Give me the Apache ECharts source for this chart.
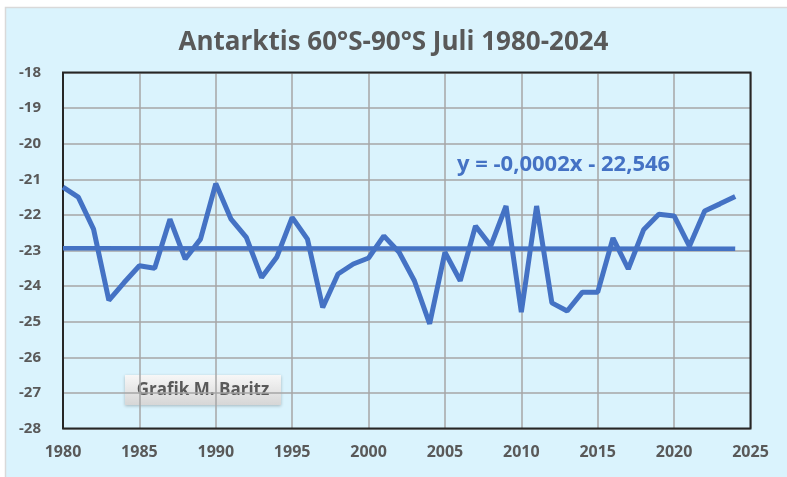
<!DOCTYPE html>
<html>
<head>
<meta charset="utf-8">
<script src="https://cdn.jsdelivr.net/npm/echarts@6/dist/echarts.min.js"></script>
<style>
  html, body { margin: 0; padding: 0; background: #fff; }
  #chart-container { width: 787px; height: 477px; }
</style>
</head>
<body>
<div id="chart-container"></div>
<script>
var dom = document.getElementById("chart-container");
var myChart = echarts.init(dom, null, { renderer: "canvas" });

// July temperatures, Antarctica 60S-90S
const years = [
  1980, 1981, 1982, 1983, 1984, 1985, 1986, 1987, 1988, 1989,
  1990, 1991, 1992, 1993, 1994, 1995, 1996, 1997, 1998, 1999,
  2000, 2001, 2002, 2003, 2004, 2005, 2006, 2007, 2008, 2009,
  2010, 2011, 2012, 2013, 2014, 2015, 2016, 2017, 2018, 2019,
  2020, 2021, 2022, 2023, 2024,
];
const temps = [
  -21.22, -21.5, -22.4, -24.4, -23.9, -23.43, -23.5, -22.12, -23.24, -22.68,
  -21.12, -22.12, -22.63, -23.76, -23.18, -22.07, -22.68, -24.6, -23.66, -23.38,
  -23.21, -22.59, -23.05, -23.85, -25.06, -23.05, -23.85, -22.31, -22.87, -21.75,
  -24.73, -21.75, -24.47, -24.7, -24.17, -24.17, -22.65, -23.52, -22.42, -21.98,
  -22.03, -22.88, -21.89, -21.69, -21.48,
];
// linear trend endpoints
const trendYears = [1980, 2024];
const trendTemps = [-22.94, -22.95];
const xTicks = [1980, 1985, 1990, 1995, 2000, 2005, 2010, 2015, 2020, 2025];

const blue = "#4472C4";
const gray = "#595959";
const font = "'Open Sans', sans-serif";

// plot box
const gl = 63, gr = 36.5, gt = 72.5, gb = 48.5;

var option = {
  backgroundColor: "#fff",
  animation: false,
  graphic: [
    {
      type: "rect",
      z: -10,
      shape: { x: 5.5, y: 7.5, width: 800, height: 500 },
      style: { fill: "#DAF3FD", stroke: "#D9D9D9", lineWidth: 1.5 },
    },
    {
      type: "rect",
      z: 1,
      silent: true,
      shape: { x: gl, y: gt, width: 787 - gl - gr, height: 477 - gt - gb },
      style: { fill: null, stroke: "#262626", lineWidth: 2 },
    },
    {
      type: "group",
      left: 125,
      top: 375,
      z: 20,
      children: [
        {
          type: "rect",
          shape: { width: 156, height: 30 },
          style: {
            fill: new echarts.graphic.LinearGradient(0, 0, 0, 1, [
              { offset: 0, color: "#F7F7F7" },
              { offset: 1, color: "#D6D6D6" },
            ]),
            shadowBlur: 3,
            shadowColor: "rgba(0,0,0,0.25)",
            shadowOffsetY: 1,
          },
        },
        {
          type: "text",
          x: 78,
          y: 15,
          style: {
            text: "Grafik M. Baritz",
            fill: gray,
            font: "bold 17px " + font,
            align: "center",
            verticalAlign: "middle",
          },
        },
      ],
    },
    {
      type: "text",
      left: 457,
      top: 154,
      z: 20,
      style: {
        text: "y = -0,0002x - 22,546",
        fill: blue,
        font: "bold 22px " + font,
      },
    },
  ],
  title: {
    text: "Antarktis 60°S-90°S Juli 1980-2024",
    left: "center",
    top: 25,
    textStyle: {
      color: gray,
      fontSize: 26,
      fontWeight: "bold",
      fontFamily: font,
    },
  },
  grid: {
    left: gl,
    right: gr,
    top: gt,
    bottom: gb,
    show: false,
  },
  xAxis: {
    type: "value",
    min: 1980,
    max: 2025,
    interval: 5,
    axisLine: { show: false },
    axisTick: { show: false },
    splitLine: { show: true, lineStyle: { color: "#A6A6A6", width: 1.5 } },
    axisLabel: {
      color: gray,
      fontSize: 16,
      fontWeight: "bold",
      fontFamily: font,
      margin: 16,
      formatter: function (v) {
        return xTicks.indexOf(v) >= 0 ? String(v) : "";
      },
    },
  },
  yAxis: {
    type: "value",
    min: -28,
    max: -18,
    interval: 1,
    axisLine: { show: false },
    axisTick: { show: false },
    splitLine: { show: true, lineStyle: { color: "#A6A6A6", width: 1.5 } },
    axisLabel: {
      color: gray,
      fontSize: 15,
      fontWeight: "bold",
      fontFamily: font,
      margin: 22,
    },
  },
  series: [
    {
      type: "line",
      data: years.map(function (y, i) { return [y, temps[i]]; }),
      symbol: "none",
      lineStyle: { color: blue, width: 5 },
      z: 3,
    },
    {
      type: "line",
      data: trendYears.map(function (y, i) { return [y, trendTemps[i]]; }),
      symbol: "none",
      lineStyle: { color: blue, width: 4.5 },
      z: 2,
    },
  ],
};

if (option && typeof option === "object") {
  myChart.setOption(option);
}

window.addEventListener("resize", myChart.resize);
</script>
</body>
</html>
